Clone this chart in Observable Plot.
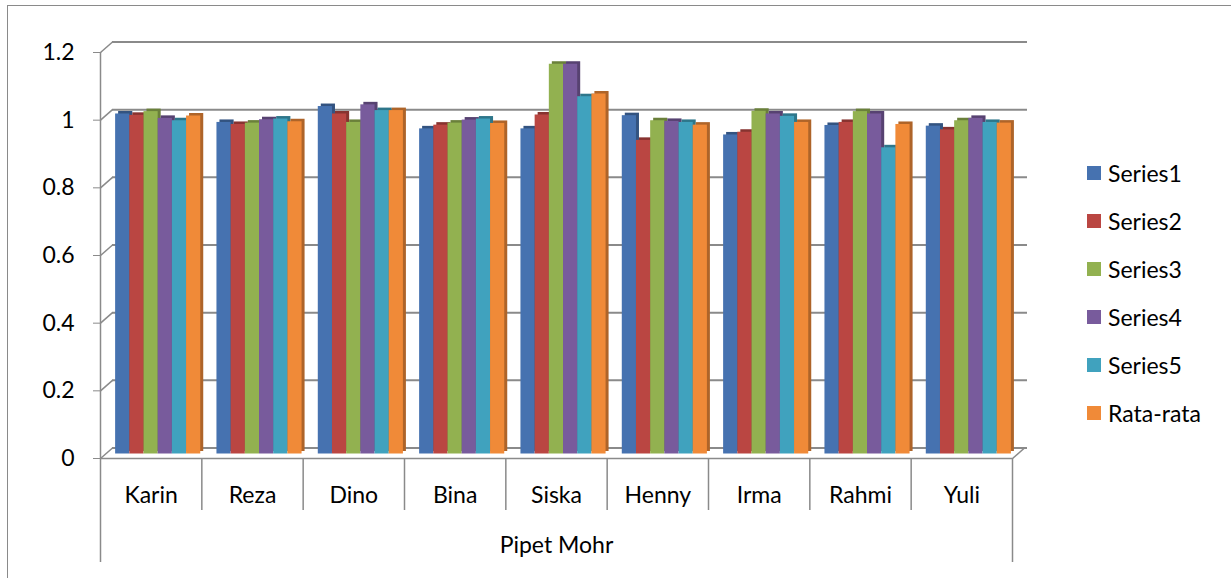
<!DOCTYPE html>
<html>
<head>
<meta charset="utf-8">
<script src="https://cdn.jsdelivr.net/npm/d3@7"></script>
<script src="https://cdn.jsdelivr.net/npm/@observablehq/plot@0.6"></script>
<style>
  html, body { margin: 0; padding: 0; background: #fff; }
  #wrap { position: relative; width: 1231px; height: 578px; overflow: hidden; font-family: Lato, "Open Sans", sans-serif; }
  #border { position: absolute; left: 7px; top: 5px; width: 1300px; height: 700px; border: 1.5px solid #8a8a8a; box-sizing: border-box; }
  #chart { position: absolute; left: 0; top: 0; }
  #legend { position: absolute; left: 1087px; top: 149px; }
  .item { height: 48px; display: flex; align-items: center; font-size: 23px; color: #000; }
  .sw { width: 14px; height: 14px; margin-right: 7px; flex: none; }
</style>
</head>
<body>
<div id="wrap">
  <div id="border"></div>
  <div id="chart"></div>
  <div id="legend"></div>
</div>
<script>
// ---- data ----
const categories = ["Karin", "Reza", "Dino", "Bina", "Siska", "Henny", "Irma", "Rahmi", "Yuli"];
const seriesNames = ["Series1", "Series2", "Series3", "Series4", "Series5", "Rata-rata"];
const series1 = [1.005, 0.980, 1.027, 0.961, 0.961, 1.000, 0.943, 0.971, 0.969];
const series2 = [1.001, 0.974, 1.005, 0.972, 1.002, 0.927, 0.951, 0.980, 0.958];
const series3 = [1.012, 0.978, 0.980, 0.978, 1.152, 0.985, 1.013, 1.012, 0.985];
const series4 = [0.992, 0.988, 1.032, 0.987, 1.152, 0.983, 1.005, 1.005, 0.992];
const series5 = [0.985, 0.990, 1.015, 0.990, 1.056, 0.980, 0.998, 0.905, 0.980];
const rataRata = [0.999, 0.982, 1.015, 0.977, 1.064, 0.972, 0.980, 0.974, 0.978];
const yTicks = [0, 0.2, 0.4, 0.6, 0.8, 1, 1.2];
const groupLabel = "Pipet Mohr";
const colors = ["#4672B0", "#BA4642", "#92B150", "#785B9C", "#40A2BE", "#F08A38"];

// ---- build table ----
const seriesValues = [series1, series2, series3, series4, series5, rataRata];
const rows = [];
seriesValues.forEach((vals, si) => {
  vals.forEach((v, ci) => rows.push({ cat: categories[ci], ci, series: seriesNames[si], si, value: v }));
});

// ---- layout ----
const W = 1231, H = 578;
const mL = 100, mR = 219, mT = 52, mB = 120;
const n = categories.length;
const pxX = (W - mL - mR) / n;          // px per category unit
const pxY = (H - mT - mB) / 1.2;        // px per value unit
const barOff = 0.09, barW = 0.14;
const depthX = 12, depthY = -10.5;

const chart = Plot.plot({
  width: W, height: H,
  marginLeft: mL, marginRight: mR, marginTop: mT, marginBottom: mB,
  x: { domain: [0, n], axis: null },
  y: { domain: [0, 1.2], axis: null },
  color: { domain: seriesNames, range: colors },
  style: { fontFamily: "Lato, 'Open Sans', sans-serif", fontSize: "23px", color: "#000", background: "transparent" },
  marks: [
    // back wall gridlines
    Plot.ruleY(yTicks, { x1: 0, x2: n + 3 / pxX, dx: depthX, dy: depthY, stroke: "#8a8a8a", strokeWidth: 2 }),
    // diagonal tick stubs (front -> back)
    Plot.link(yTicks, { x1: 0, x2: depthX / pxX, y1: d => d, y2: d => d - depthY / pxY, stroke: "#8a8a8a", strokeWidth: 1.5 }),
    // right floor stub
    Plot.link([0], { x1: n, x2: n + depthX / pxX, y1: 0, y2: -depthY / pxY, stroke: "#8a8a8a", strokeWidth: 1.5 }),
    // bar side/top faces
    Plot.rectY(rows, {
      x1: d => d.ci + barOff + d.si * barW, x2: d => d.ci + barOff + (d.si + 1) * barW,
      y1: 0, y2: "value", dx: 9, dy: -7,
      fill: d => d3.color(colors[d.si]).darker(0.9).formatHex()
    }),
    // bar fronts
    Plot.rectY(rows, {
      x1: d => d.ci + barOff + d.si * barW, x2: d => d.ci + barOff + (d.si + 1) * barW,
      y1: 0, y2: "value", dx: 6, dy: -4.5,
      fill: "series"
    }),
    // front baseline
    Plot.ruleY([0], { x1: 0, x2: n, stroke: "#8a8a8a", strokeWidth: 1.5 }),
    // left axis line
    Plot.ruleX([0], { y1: -104 / pxY, y2: 1.2, stroke: "#8a8a8a", strokeWidth: 1.5 }),
    // right outer line
    Plot.ruleX([n], { y1: -104 / pxY, y2: 0, stroke: "#8a8a8a", strokeWidth: 1.5 }),
    // category separators
    Plot.ruleX(d3.range(1, n), { y1: -52 / pxY, y2: 0, stroke: "#8a8a8a", strokeWidth: 1.5 }),
    // y axis
    Plot.axisY(yTicks, { label: null, tickSize: 7, tickPadding: 19, tickFormat: d => String(d), stroke: "#8a8a8a", fill: "#000", fontSize: 23 }),
    // category labels
    Plot.text(categories, { x: (d, i) => i + 0.5, y: -37 / pxY, text: d => d, fill: "#000", fontSize: 23 }),
    // group label
    Plot.text([groupLabel], { x: n / 2, y: -87 / pxY, text: d => d, fill: "#000", fontSize: 23 })
  ]
});
document.getElementById("chart").appendChild(chart);

// ---- legend ----
const legend = document.getElementById("legend");
seriesNames.forEach((s, i) => {
  const item = document.createElement("div");
  item.className = "item";
  const sw = document.createElement("span");
  sw.className = "sw";
  sw.style.background = colors[i];
  const t = document.createElement("span");
  t.textContent = s;
  item.appendChild(sw);
  item.appendChild(t);
  legend.appendChild(item);
});
</script>
</body>
</html>
